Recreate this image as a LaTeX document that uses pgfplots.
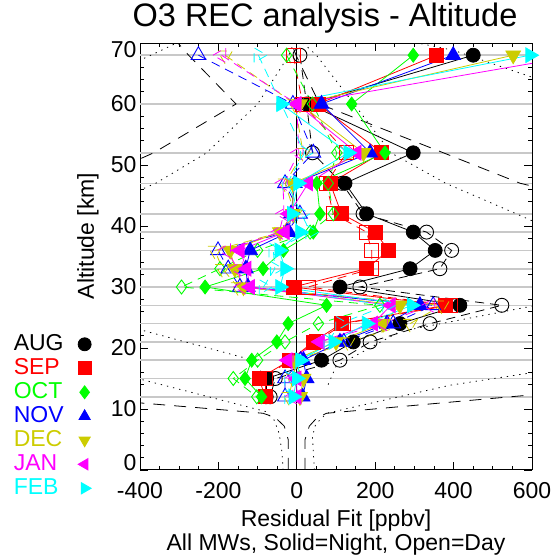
\documentclass[border=0pt]{standalone}
\usepackage{pgfplots}
\usepackage{pgfplotstable}
\pgfplotsset{compat=1.18}
\usepackage{fontspec}
\setmainfont{Liberation Sans}
\definecolor{cAUG}{RGB}{0,0,0}
\definecolor{cSEP}{RGB}{255,0,0}
\definecolor{cOCT}{RGB}{0,255,0}
\definecolor{cNOV}{RGB}{0,0,255}
\definecolor{cDEC}{RGB}{204,204,0}
\definecolor{cJAN}{RGB}{255,0,255}
\definecolor{cFEB}{RGB}{0,255,255}
\definecolor{gridgray}{RGB}{200,200,200}

% alt, night (n) and day (d) residuals per month
\pgfplotstableread{
alt AUGn AUGd SEPn SEPd OCTn OCTd NOVn NOVd DECn DECd JANn JANd FEBn FEBd
68  450  8    357  -9   297  -26  399  -251 552  -183 720  -192 595  -98
60  30   25   54   15   140  40   63   -10  8    -5   0    0    -40  -40
52  297  40   217  127  225  102  187  42   170  16   153  5    131  20
47  123  115  85   75   51   80   -5   -30  -10  -30  29   -35  3    -25
42  178  169  114  93   59   93   -15  8    -10  -5   -20  -33  -13  12
39  297  331  200  178  42   34   -20  -25  -43  -40  -30  -45  8    34
36  353  395  234  191  -34  -100 -119 -201 -170 -209 -145 -180 -45  -60
33  289  365  178  191  -86  -196 -130 -175 -158 -190 -128 -150 -30  -56
30  110  161  -9   29   -234 -294 -125 -145 -136 -150 -119 -140 -43  -85
27  416  523  380  391  76   212  314  348  263  370  240  340  293  230
24  263  340  114  120  -22  55   230  246  220  289  195  220  178  110
21  144  187  42   50   -51  -30  110  120  100  130  59   59   93   80
18  63   110  -17  -20  -115 -100 17   10   -8   0    -23  -20  8    10
15  -77  -55  -96  -80  -132 -162 25   -30  17   -10  0    -10  0    -20
12  -78  -68  -81  -80  -90  -102 15   -30  8    -20  0    -10  -9   -20
}\datatable

\begin{document}
\begin{tikzpicture}[x=1pt,y=1pt]
\useasboundingbox (0,0) rectangle (557,559);
\begin{axis}[
  at={(140pt,89pt)}, anchor=south west,
  width=392pt, height=427pt, scale only axis,
  xmin=-400, xmax=600, ymin=0, ymax=70,
  xtick={-400,-200,0,200,400,600}, minor x tick num=3,
  ytick={0,10,20,30,40,50,60,70}, minor y tick num=4,
  xticklabels={-400,-200,0,200,400,600},
  yticklabels={\raisebox{7pt}[\height][\depth]{0},10,20,30,40,50,60,\raisebox{-7pt}[\height][\depth]{70}},
  tick align=inside,
  major tick length=8pt, minor tick length=4pt,
  every tick/.style={black, line width=0.8pt},
  axis line style={line width=1pt},
  ticklabel style={font=\fontsize{23}{26}\selectfont},
  xticklabel style={yshift=-9pt},
  extra y ticks={12,15,18,21,24,27,30,33,36,39,42,47,52,60,68},
  extra y tick labels={},
  extra y tick style={grid=major, major grid style={gridgray, line width=1.6pt}, major tick length=0pt},
  title={O3 REC analysis - Altitude},
  title style={font=\fontsize{32.5}{34}\selectfont, at={(0.472,1)}, anchor=center, yshift=19pt},
  xlabel={Residual Fit [ppbv]\\All MWs, Solid=Night, Open=Day},
  xlabel style={font=\fontsize{23}{24.5}\selectfont, align=center, at={(0.5,0)}, anchor=north, yshift=-36pt},
  ylabel={Altitude [km]},
  ylabel style={font=\fontsize{23}{26}\selectfont, at={(-0.133,0.548)}, anchor=center},
  legend style={at={(-0.325,0.323)}, anchor=north west, draw=none, fill=none,
    font=\fontsize{23}{24}\selectfont, row sep=0pt, inner sep=0pt,
    nodes={text height=17pt, text depth=5pt, inner sep=1pt}},
  legend cell align=left,
  legend plot pos=right,
  legend image code/.code={\path[draw=none, fill=none] (0pt,0pt) -- (28pt,0pt); \draw[#1, only marks, mark size=6.5pt] plot coordinates {(20pt,0pt)};},
  night/.style={solid, line width=0.8pt, mark options={solid}},
  day/.style={dash pattern=on 9pt off 6pt, line width=0.8pt, mark options={solid, fill=none, line width=0.9pt}},
  env/.style={black, line width=0.8pt, forget plot},
]
% zero line
\addplot[black, line width=0.8pt, forget plot] coordinates {(0,0) (0,70)};
% envelope curves (dashed)
\addplot[env, dash pattern=on 12pt off 9pt] coordinates {(-22,0) (-22,5) (-32,7.2) (-55,8.6) (-86,9.3) (-250,10.2) (-400,11.0) (-700,12.5)};
\addplot[env, dash pattern=on 12pt off 9pt] coordinates {(-700,44.5) (-540,47) (-365,52) (-155,60) (-276,68) (-310,70.5)};
\addplot[env, dash pattern=on 12pt off 9pt] coordinates {(21,0) (21,5) (32,7.2) (52,8.6) (76,9.3) (370,11) (545,12) (800,13.5)};
\addplot[env, dash pattern=on 12pt off 9pt] coordinates {(800,43.5) (570,47) (374,52) (58,60) (-2,68) (-17,70.5)};
% envelope curves (dotted)
\addplot[env, dash pattern=on 1.3pt off 5pt] coordinates {(-35,0) (-38,3) (-45,6) (-58,8.2) (-80,9.6) (-400,14.9) (-700,17.5)};
\addplot[env, dash pattern=on 1.3pt off 5pt] coordinates {(45,0) (42,3) (40,5.5) (48,7.5) (76,9.3) (391,13.9) (595,15.9) (800,17.5)};
\addplot[env, dash pattern=on 1.3pt off 5pt] coordinates {(-800,28) (-400,23) (-111,18) (-90,16) (-80,14)};
\addplot[env, dash pattern=on 1.3pt off 5pt] coordinates {(80,14) (100,17) (263,22.7) (595,26.8) (800,29)};
\addplot[env, dash pattern=on 1.3pt off 5pt] coordinates {(-600,41) (-400,45.9) (-360,47) (-230,52) (-100,60) (-20,68) (-5,70.5)};
\addplot[env, dash pattern=on 1.3pt off 5pt] coordinates {(16,70) (50,68) (146,60) (240,52) (380,47) (560,42) (700,38)};
\addplot[env, dash pattern=on 1.3pt off 5pt] coordinates {(-700,59) (-400,67.2) (-372,68) (-290,70.5)};
\addplot[env, dash pattern=on 1.3pt off 5pt] coordinates {(270,70.5) (400,68.8) (595,64.5) (800,60)};

% AUG
\addplot[day, cAUG, mark=o, mark size=7pt, forget plot] table[x=AUGd, y=alt] {\datatable};
\addplot[night, cAUG, mark=*, mark size=7pt] table[x=AUGn, y=alt] {\datatable};
\addlegendentry{\textcolor{cAUG}{AUG}}
% SEP
\addplot[day, cSEP, mark=square, mark size=7pt, forget plot] table[x=SEPd, y=alt] {\datatable};
\addplot[night, cSEP, mark=square*, mark size=7pt] table[x=SEPn, y=alt] {\datatable};
\addlegendentry{\textcolor{cSEP}{SEP}}
% OCT
\addplot[day, cOCT, mark=diamond, mark size=7pt, forget plot] table[x=OCTd, y=alt] {\datatable};
\addplot[night, cOCT, mark=diamond*, mark size=7pt] table[x=OCTn, y=alt] {\datatable};
\addlegendentry{\textcolor{cOCT}{OCT}}
% NOV
\addplot[day, cNOV, mark=triangle, mark size=8.5pt, forget plot] table[x=NOVd, y=alt] {\datatable};
\addplot[night, cNOV, mark=triangle*, mark size=8.5pt] table[x=NOVn, y=alt] {\datatable};
\addlegendentry{\textcolor{cNOV}{NOV}}
% DEC
\addplot[day, cDEC, mark=triangle, mark size=8.5pt, mark options={rotate=180}, forget plot] table[x=DECd, y=alt] {\datatable};
\addplot[night, cDEC, mark=triangle*, mark size=8.5pt, mark options={rotate=180}] table[x=DECn, y=alt] {\datatable};
\addlegendentry{\textcolor{cDEC}{DEC}}
% JAN
\addplot[day, cJAN, mark=triangle, mark size=8.5pt, mark options={rotate=90}, forget plot] table[x=JANd, y=alt] {\datatable};
\addplot[night, cJAN, mark=triangle*, mark size=8.5pt, mark options={rotate=90}] table[x=JANn, y=alt] {\datatable};
\addlegendentry{\textcolor{cJAN}{JAN}}
% FEB
\addplot[day, cFEB, mark=triangle, mark size=8.5pt, mark options={rotate=-90}, forget plot] table[x=FEBd, y=alt] {\datatable};
\addplot[night, cFEB, mark=triangle*, mark size=8.5pt, mark options={rotate=-90}] table[x=FEBn, y=alt] {\datatable};
\addlegendentry{\textcolor{cFEB}{FEB}}
\end{axis}
\end{tikzpicture}
\end{document}
